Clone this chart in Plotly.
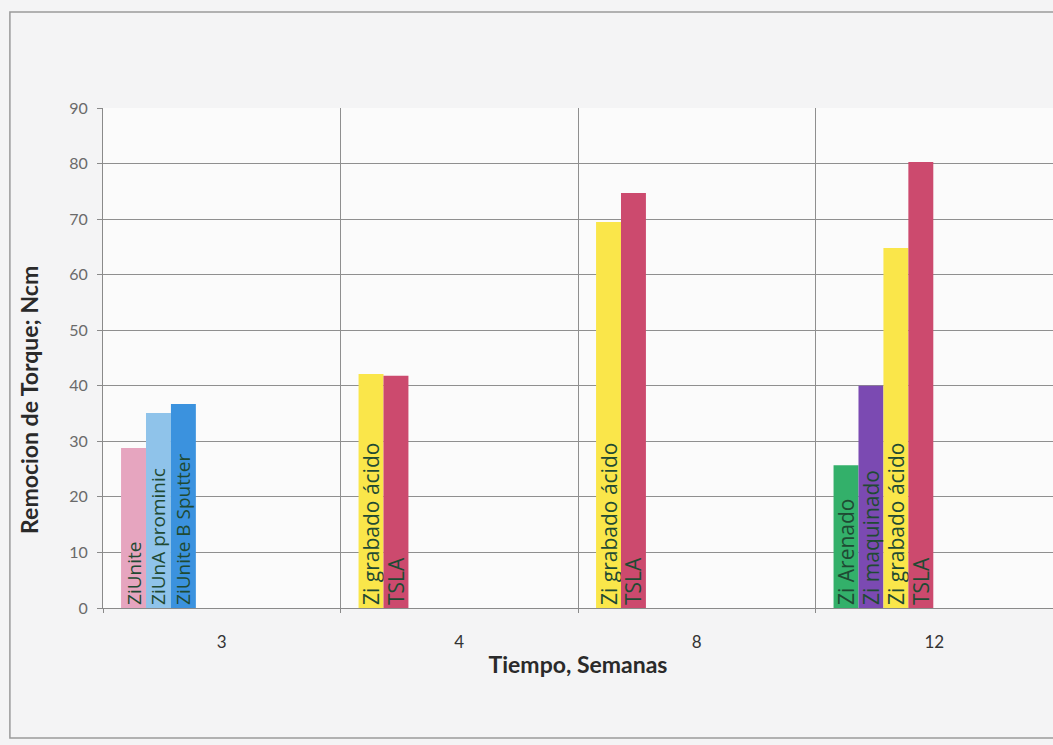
import plotly.graph_objects as go

# ---------------- data ----------------
categories = ["3", "4", "8", "12"]

slot0_values = [28.8, 42.1, 69.5, 25.7]
slot0_labels = ["ZiUnite", "Zi grabado ácido", "Zi grabado ácido", "Zi Arenado"]

slot1_values = [35.1, 41.8, 74.7, 40.0]
slot1_labels = ["ZiUnA prominic", "TSLA", "TSLA", "Zi maquinado"]

slot2_values = [36.7, None, None, 64.8]
slot2_labels = ["ZiUnite B Sputter", "", "", "Zi grabado ácido"]

slot3_values = [None, None, None, 80.3]
slot3_labels = ["", "", "", "TSLA"]

y_ticks = [0, 10, 20, 30, 40, 50, 60, 70, 80, 90]

y_title = "Remocion de Torque; Ncm"
x_title = "Tiempo, Semanas"

# ---------------- styles ----------------
PINK, LBLUE, BLUE = "#e6a5bf", "#8fc3ea", "#3b92de"
YELLOW, RED, GREEN, PURPLE = "#fae64a", "#cc4a6e", "#33b06a", "#7b4ab2"
slot0_colors = [PINK, YELLOW, YELLOW, GREEN]
slot1_colors = [LBLUE, RED, RED, PURPLE]
slot2_colors = [BLUE, YELLOW, YELLOW, YELLOW]
slot3_colors = [RED, RED, RED, RED]
label_sizes = [19, 21, 21, 21]  # per category

FONT = "Lato"
BAR_FONT = "Open Sans"
TEXT_COLOR = "#1f4a33"
BAR_W = 0.105
FIRST_OFF = -0.5 + 0.076

x_pos = list(range(len(categories)))

slots = [
    (slot0_values, slot0_labels, slot0_colors),
    (slot1_values, slot1_labels, slot1_colors),
    (slot2_values, slot2_labels, slot2_colors),
    (slot3_values, slot3_labels, slot3_colors),
]

fig = go.Figure()
for k, (vals, labels, cols) in enumerate(slots):
    fig.add_trace(go.Bar(
        x=x_pos, y=vals, text=labels,
        marker=dict(color=cols, line=dict(width=0)),
        width=BAR_W, offset=FIRST_OFF + k * BAR_W,
        textposition="inside", insidetextanchor="start", textangle=-90,
        textfont=dict(family=BAR_FONT, size=label_sizes, color=TEXT_COLOR),
        constraintext="none", cliponaxis=False,
        showlegend=False, hoverinfo="y",
    ))

fig.update_layout(
    width=1053, height=745,
    margin=dict(l=103, r=0, t=108, b=137),
    barmode="overlay",
    paper_bgcolor="#f4f4f5",
    plot_bgcolor="#fbfbfb",
    font=dict(family=FONT, color="#555555"),
    xaxis=dict(
        range=[-0.5, 3.5],
        tickmode="array", tickvals=x_pos, ticktext=categories,
        showgrid=False, zeroline=False,
        showline=True, linecolor="#8a8a8a", linewidth=1,
        ticks="", ticklabelstandoff=19,
        tickfont=dict(family=FONT, size=17, color="#333333"),
        minor=dict(tickvals=[-0.5, 0.5, 1.5, 2.5], showgrid=True,
                   gridcolor="#8f8f8f", gridwidth=1,
                   ticks="outside", ticklen=4, tickcolor="#8a8a8a"),
        title=dict(text="<b>" + x_title + "</b>", standoff=5,
                   font=dict(family=FONT, size=23, color="#2a2a2a")),
    ),
    yaxis=dict(
        range=[0, 90], tickmode="array", tickvals=y_ticks,
        showgrid=True, gridcolor="#8f8f8f", gridwidth=1,
        zeroline=False, showline=True, linecolor="#8a8a8a", linewidth=1,
        ticks="outside", ticklen=5, tickcolor="#8a8a8a",
        ticklabelstandoff=6,
        tickfont=dict(family=FONT, size=16, color="#6a6a6a"),
    ),
    annotations=[
        dict(text="<b>" + y_title + "</b>", textangle=-90,
             xref="paper", yref="paper", x=-0.078, y=0.416,
             xanchor="center", yanchor="middle", showarrow=False,
             font=dict(family=FONT, size=23, color="#2a2a2a")),
    ],
    shapes=[
        dict(type="rect", xref="paper", yref="paper",
             x0=-0.098, x1=1.05, y0=-0.26, y1=1.192,
             line=dict(color="#9a9a9a", width=1.5), layer="below"),
    ],
)

fig.write_html("out.html")
